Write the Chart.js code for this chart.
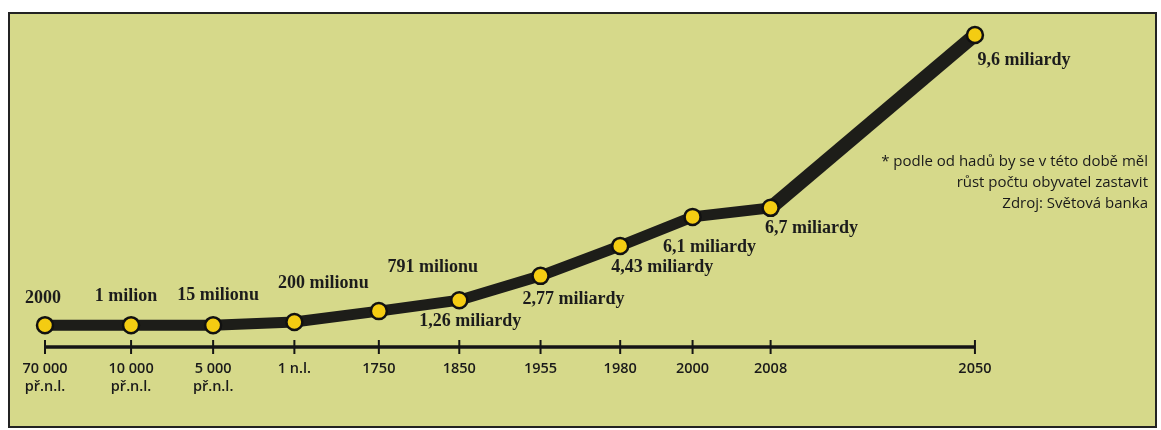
<!DOCTYPE html>
<html>
<head>
<meta charset="utf-8">
<script src="https://cdn.jsdelivr.net/npm/chart.js@4/dist/chart.umd.min.js"></script>
<style>
  html, body { margin: 0; padding: 0; background: #fff; }
  #wrap { width: 1161px; height: 430px; }
</style>
</head>
<body>
<div id="wrap"><canvas id="popChart" width="1161" height="430"></canvas></div>
<script>
// časová osa (nestejnoměrné rozestupy, 2050 je dál)
const periods = [
  ["70 000", "př.n.l."], ["10 000", "př.n.l."], ["5 000", "př.n.l."], ["1 n.l."],
  ["1750"], ["1850"], ["1955"], ["1980"], ["2000"], ["2008"], ["2050"]
];
const timelineSlots = [0, 1.07, 2.09, 3.1, 4.15, 5.15, 6.16, 7.15, 8.05, 9.02, 11.56];
// relativní výška křivky (0–100)
const levels = [7, 7, 7, 8, 11.5, 15, 22.8, 32.4, 41.7, 44.6, 100];
const populationLabels = [
  "2000", "1 milion", "15 milionu", "200 milionu", "791 milionu", "1,26 miliardy",
  "2,77 miliardy", "4,43 miliardy", "6,1 miliardy", "6,7 miliardy", "9,6 miliardy"
];
const noteLines = [
  "* podle od hadů by se v této době měl",
  "růst počtu obyvatel zastavit",
  "Zdroj: Světová banka"
];

// posun popisků vůči bodu
const labelOffsets = [
  [-2, -27], [-5, -29], [5, -30], [29, -39], [54, -44], [11, 21],
  [33, 23], [42, 21], [17, 30], [41, 20], [49, 25]
];

const frame = {
  id: "frame",
  beforeDraw(chart) {
    const ctx = chart.ctx;
    ctx.save();
    ctx.fillStyle = "#ffffff";
    ctx.fillRect(0, 0, chart.width, chart.height);
    ctx.fillStyle = "#d6d98a";
    ctx.fillRect(9, 13, 1147, 414);
    ctx.strokeStyle = "#232323";
    ctx.lineWidth = 2;
    ctx.strokeRect(9, 13, 1147, 414);
    ctx.restore();
  }
};

const timeline = {
  id: "timeline",
  beforeDatasetsDraw(chart) {
    const ctx = chart.ctx;
    const xs = chart.scales.x;
    const y0 = chart.scales.y.getPixelForValue(0);
    const first = xs.getPixelForValue(timelineSlots[0]);
    const last = xs.getPixelForValue(timelineSlots[timelineSlots.length - 1]);
    ctx.save();
    ctx.strokeStyle = "#151515";
    ctx.lineWidth = 3.5;
    ctx.beginPath();
    ctx.moveTo(first, y0);
    ctx.lineTo(last, y0);
    ctx.stroke();
    ctx.lineWidth = 2;
    ctx.fillStyle = "#1a1a1a";
    ctx.font = "600 14.5px 'Open Sans'";
    ctx.textAlign = "center";
    ctx.textBaseline = "middle";
    timelineSlots.forEach((s, i) => {
      const px = xs.getPixelForValue(s);
      ctx.beginPath();
      ctx.moveTo(px, y0 - 7);
      ctx.lineTo(px, y0 + 7);
      ctx.stroke();
      periods[i].forEach((line, j) => {
        ctx.fillText(line, px, y0 + 22 + j * 18);
      });
    });
    // poznámka vpravo
    ctx.font = "15px 'Open Sans'";
    ctx.textAlign = "right";
    noteLines.forEach((line, j) => {
      ctx.fillText(line, 1148, 162 + j * 21);
    });
    ctx.restore();
  },
  afterDatasetsDraw(chart) {
    const ctx = chart.ctx;
    const pts = chart.getDatasetMeta(0).data;
    ctx.save();
    ctx.fillStyle = "#1c1c1c";
    ctx.font = "bold 18px 'Liberation Serif'";
    ctx.textAlign = "center";
    ctx.textBaseline = "middle";
    pts.forEach((p, i) => {
      ctx.fillText(populationLabels[i], p.x + labelOffsets[i][0], p.y + labelOffsets[i][1]);
    });
    ctx.restore();
  }
};

const populationData = {
  datasets: [
    {
      data: timelineSlots.map((s, i) => ({ x: s, y: levels[i] })),
      borderColor: "#1d1d19",
      borderWidth: 11,
      borderCapStyle: "butt",
      tension: 0,
      pointRadius: 8,
      pointBorderWidth: 2.5,
      pointBackgroundColor: "#f4cc12",
      pointBorderColor: "#111111",
      clip: false,
      segment: {
        borderWidth: (c) => (c.p1DataIndex === timelineSlots.length - 1 ? 14 : 11)
      }
    }
  ]
};

const configPopulation = {
  type: "line",
  data: populationData,
  options: {
    responsive: false,
    animation: false,
    layout: { padding: { left: 45, right: 30, top: 35, bottom: 83 } },
    plugins: {
      legend: { display: false },
      tooltip: { enabled: false }
    },
    scales: {
      x: { type: "linear", min: 0, max: 13.5, display: false },
      y: { min: 0, max: 100, display: false }
    }
  },
  plugins: [frame, timeline]
};

const popChart = new Chart(document.getElementById("popChart"), configPopulation);
</script>
</body>
</html>
